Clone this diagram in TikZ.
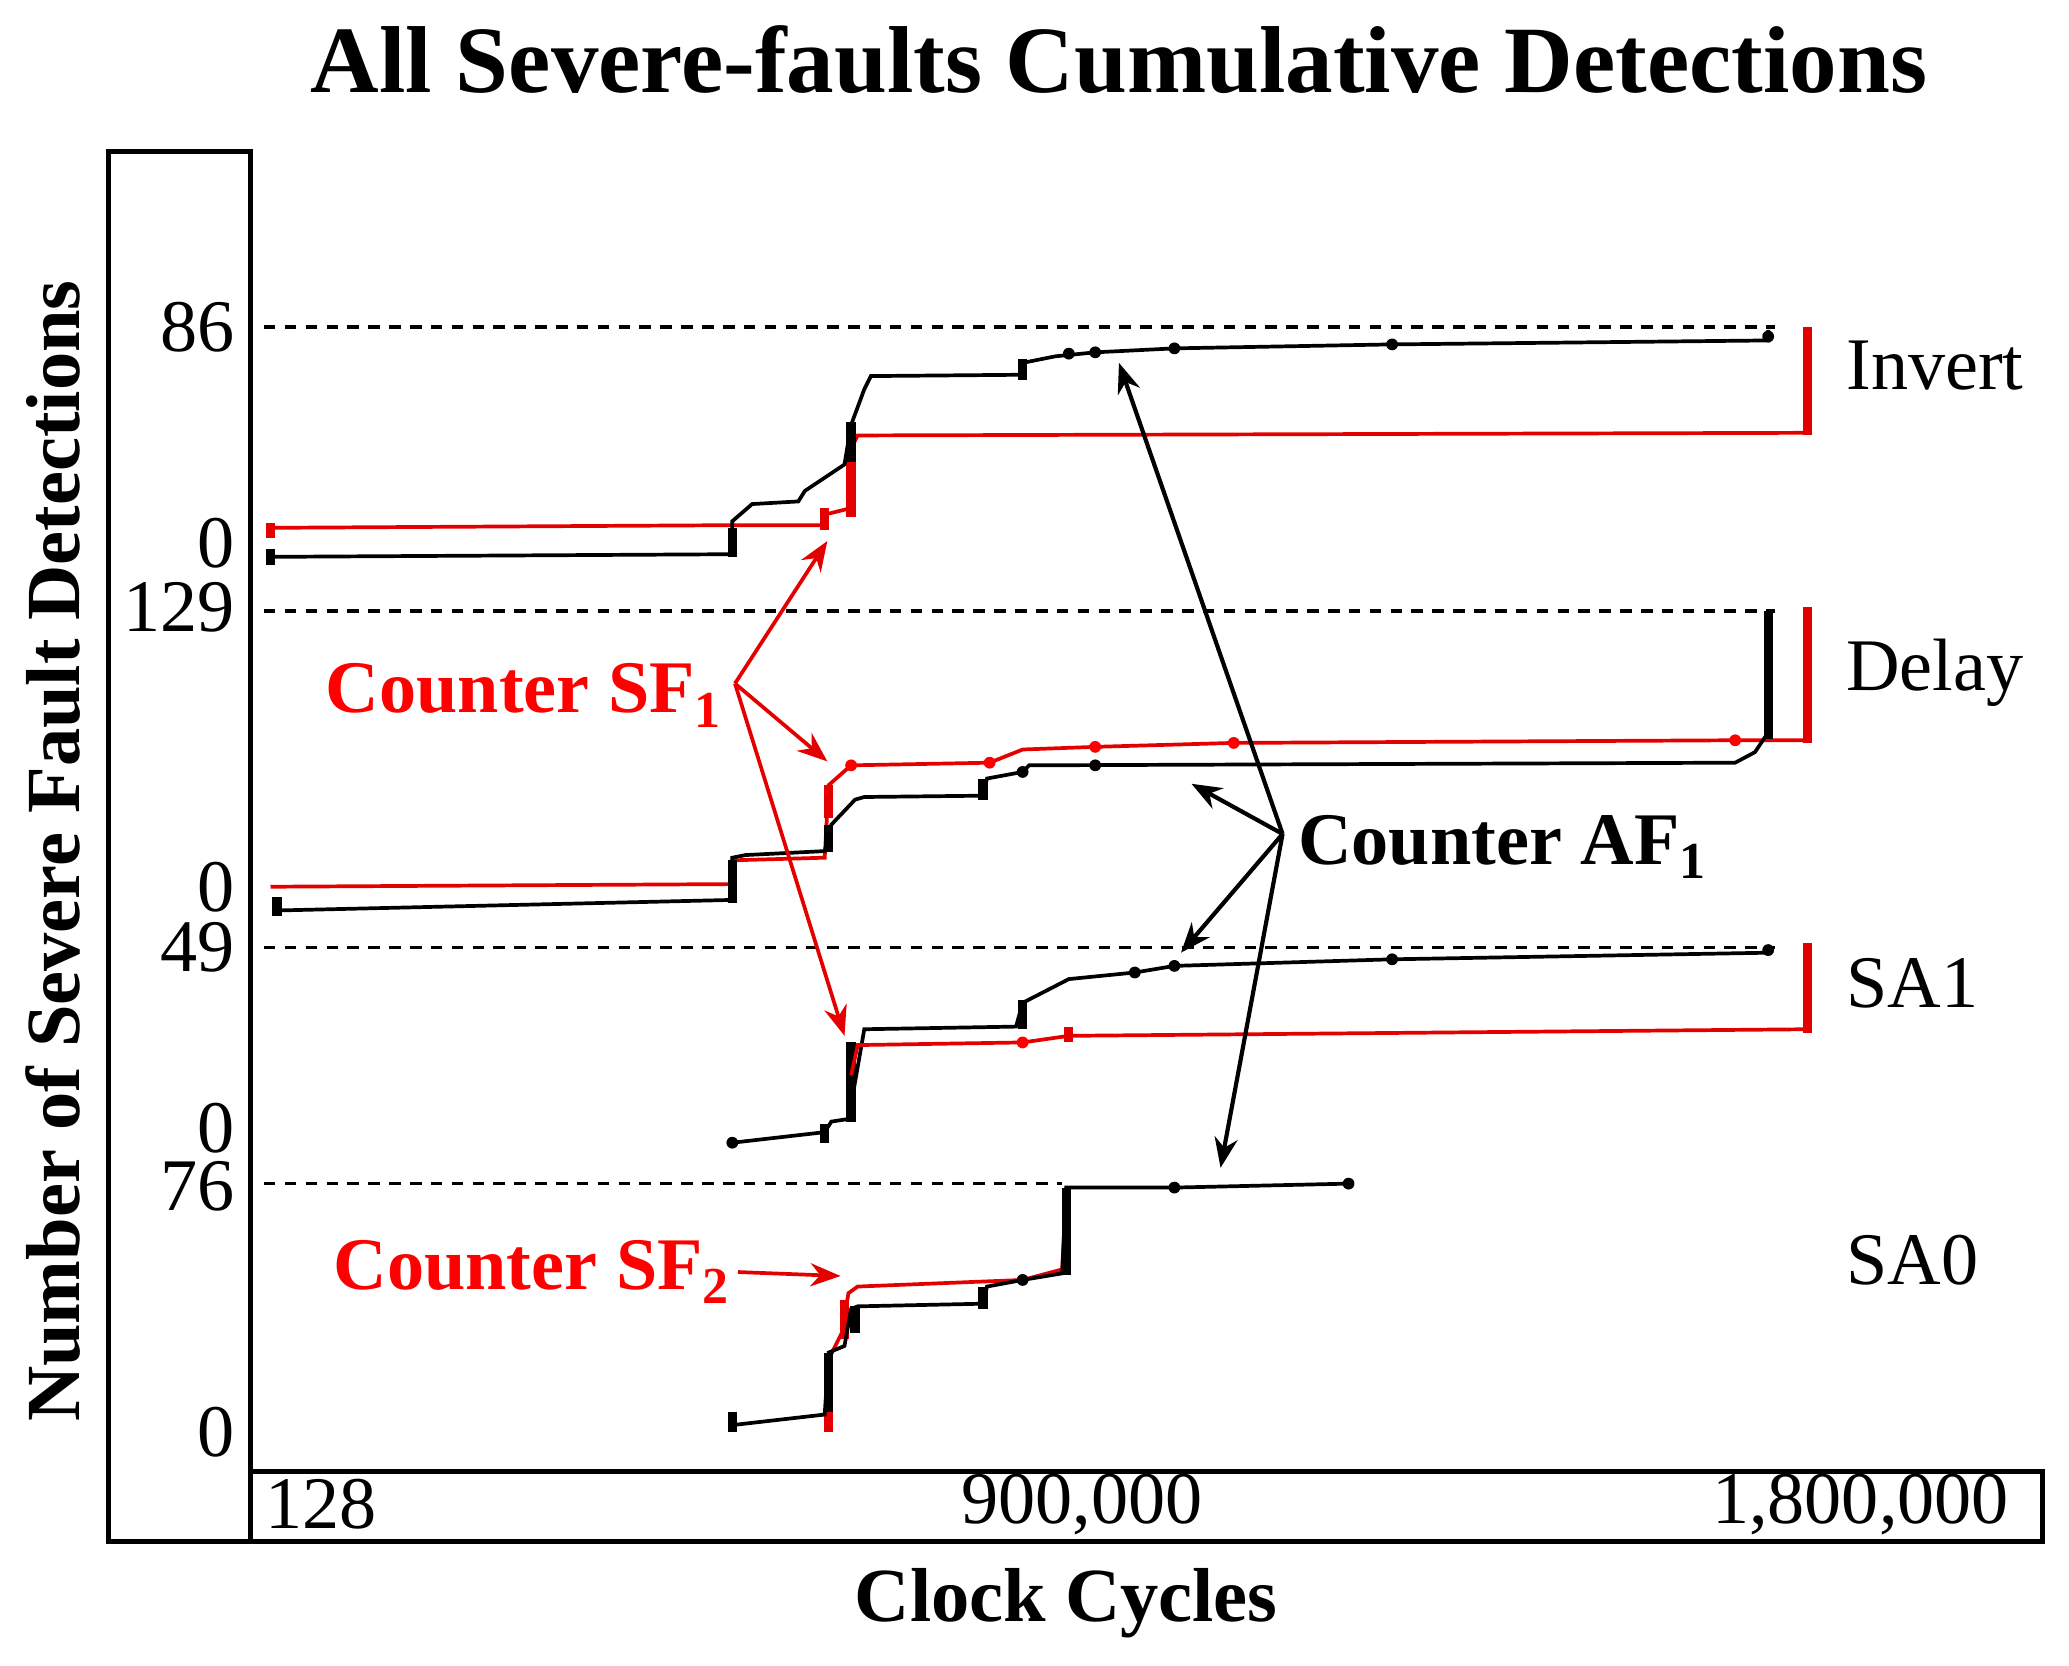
\documentclass[tikz,border=0pt]{standalone}
\usepackage{fontspec}
\setmainfont{Liberation Serif}
\usetikzlibrary{arrows.meta}
\begin{document}
\begin{tikzpicture}[x={(0.02cm,0)},y={(0,-0.02cm)},
  blk/.style={black,line width=1.6pt},
  red/.style={draw=red!90!black,line width=1.6pt},
  dsh/.style={dashed,line width=1.6pt,dash pattern=on 5pt off 4pt},
  tick/.style={font=\fontsize{32}{32}\selectfont,anchor=east,inner sep=1pt},
  lab/.style={font=\fontsize{32}{32}\selectfont,anchor=west},
  ann/.style={-{Stealth[length=13pt,width=10pt]},line width=1.8pt},
  dot/.style={circle,fill,inner sep=1.8pt}]
\useasboundingbox (0,0) rectangle (1568,1262);
\node (title) at (848,45) {\fontsize{41}{41}\selectfont\bfseries All Severe-faults Cumulative Detections};
\draw[line width=2pt] (82,115) rectangle (190,1168);
\draw[line width=2pt] (190,1115) rectangle (1548,1168);
\node (ylab) [rotate=90] at (40,645) {\fontsize{33}{33}\selectfont\bfseries Number of Severe Fault Detections};
\node (xlab) at (808,1215) {\fontsize{33}{33}\selectfont\bfseries Clock Cycles};
\node (x1) at (243,1140) {\fontsize{32}{32}\selectfont 128};
\node (x2) at (820,1140) {\fontsize{32}{32}\selectfont 900,000};
\node (x3) at (1410,1140) {\fontsize{32}{32}\selectfont 1,800,000};
\foreach \v/\y in {86/248,0/412,129/460,0/672,49/718,0/855,76/899,0/1085}
  \node[tick] at (180,\y) {\v};
\draw[dsh] (200,248) -- (1345,248);
\draw[dsh] (200,463) -- (1345,463);
\draw[dsh] (200,718) -- (1345,718);
\draw[dsh] (200,897) -- (805,897);
% Invert
\draw[red] (205,400) -- (555,398) -- (625,398) -- (625,390) -- (645,385) -- (645,340) -- (650,330) -- (1370,328);
\draw[red,line width=4pt] (205,396)--(205,408) (625,385)--(625,402) (645,340)--(645,392) (1370,248)--(1370,330);
\draw[blk] (205,422) -- (555,420) -- (555,395) -- (570,382) -- (605,380) -- (610,372) -- (625,362) -- (640,352) -- (645,322) -- (655,295) -- (660,285) -- (775,284) -- (775,275) -- (800,270) -- (830,267) -- (890,264) -- (1055,261) -- (1340,258) -- (1340,250);
\draw[line width=4pt] (205,416)--(205,428) (555,400)--(555,422) (645,320)--(645,350) (775,272)--(775,288);
\foreach \p in {(810,268),(830,267),(890,264),(1055,261),(1340,255)} \node[dot] at \p {};
% Delay
\draw[red] (205,672) -- (555,670) -- (555,652) -- (625,650) -- (628,595) -- (645,580) -- (750,578) -- (775,568) -- (830,566) -- (935,563) -- (1315,561) -- (1370,561);
\draw[red,line width=4pt] (1370,460)--(1370,563) (628,595)--(628,620);
\foreach \p in {(750,578),(830,566),(935,563),(1315,561),(645,580)} \node[dot,fill=red] at \p {};
\draw[blk] (210,690) -- (555,682) -- (555,650) -- (565,648) -- (625,645) -- (630,625) -- (648,606) -- (655,604) -- (745,603) -- (748,590) -- (775,585) -- (780,580) -- (1315,578) -- (1330,570) -- (1340,555) -- (1340,463);
\draw[line width=4pt] (210,680)--(210,694) (555,652)--(555,684) (1340,463)--(1340,560) (745,590)--(745,606) (628,625)--(628,646);
\foreach \p in {(775,585),(830,580)} \node[dot] at \p {};
% SA1
\draw[blk] (555,866) -- (625,858) -- (630,850) -- (643,848) -- (648,820) -- (655,780) -- (770,778) -- (775,760) -- (810,742) -- (860,737) -- (890,732) -- (1055,727) -- (1340,722) -- (1340,718);
\draw[line width=4pt] (645,790)--(645,850) (775,758)--(775,780) (625,852)--(625,866);
\foreach \p in {(555,866),(860,737),(890,732),(1055,727),(1340,720)} \node[dot] at \p {};
\draw[red] (645,815) -- (650,792) -- (775,790) -- (810,785) -- (1370,780);
\draw[red,line width=4pt] (1370,715)--(1370,783) (810,778)--(810,790);
\node[dot,fill=red] at (775,790) {};
% SA0
\draw[red] (628,1085) -- (628,1030) -- (638,1010) -- (643,980) -- (650,975) -- (775,970) -- (805,962) -- (808,900);
\draw[red,line width=4pt] (628,1030)--(628,1085) (640,985)--(640,1015);
\draw[blk] (555,1080) -- (625,1072) -- (628,1025) -- (640,1020) -- (645,992) -- (650,990) -- (745,988) -- (748,975) -- (775,970) -- (805,965) -- (808,900) -- (890,900) -- (1022,897);
\draw[line width=4pt] (555,1070)--(555,1085) (628,1025)--(628,1070) (808,900)--(808,966) (745,975)--(745,992) (648,990)--(648,1010);
\foreach \p in {(890,900),(1022,897),(775,970)} \node[dot] at \p {};
% labels
\node[lab] (inv) at (1393,277) {Invert};
\node[lab] (del) at (1393,510) {Delay};
\node[lab] (sa1) at (1393,745) {SA1};
\node[lab] (sa0) at (1393,955) {SA0};
% annotations
\node (sf1) [text=red,font=\fontsize{32}{32}\selectfont\bfseries] at (397,527) {Counter SF\textsubscript{1}};
\node (sf2) [text=red,font=\fontsize{32}{32}\selectfont\bfseries] at (403,964) {Counter SF\textsubscript{2}};
\node (af1) [anchor=west,inner sep=2pt,font=\fontsize{32}{32}\selectfont\bfseries] at (980,642) {Counter AF\textsubscript{1}};
\coordinate (s1) at (557,518);
\coordinate (a1) at (972,632);
\coordinate (t1) at (627,410); \coordinate (t2) at (627,577); \coordinate (t3) at (640,785); \coordinate (t4) at (637,967);
\coordinate (u1) at (848,275); \coordinate (u2) at (903,594); \coordinate (u3) at (895,722); \coordinate (u4) at (925,885);
\foreach \t in {t1,t2,t3} \draw[ann,red] (s1) -- (\t);
\draw[ann,red] (sf2.east) -- (t4);
\foreach \t in {u1,u2,u3,u4} \draw[ann] (a1) -- (\t);
\end{tikzpicture}
\end{document}
